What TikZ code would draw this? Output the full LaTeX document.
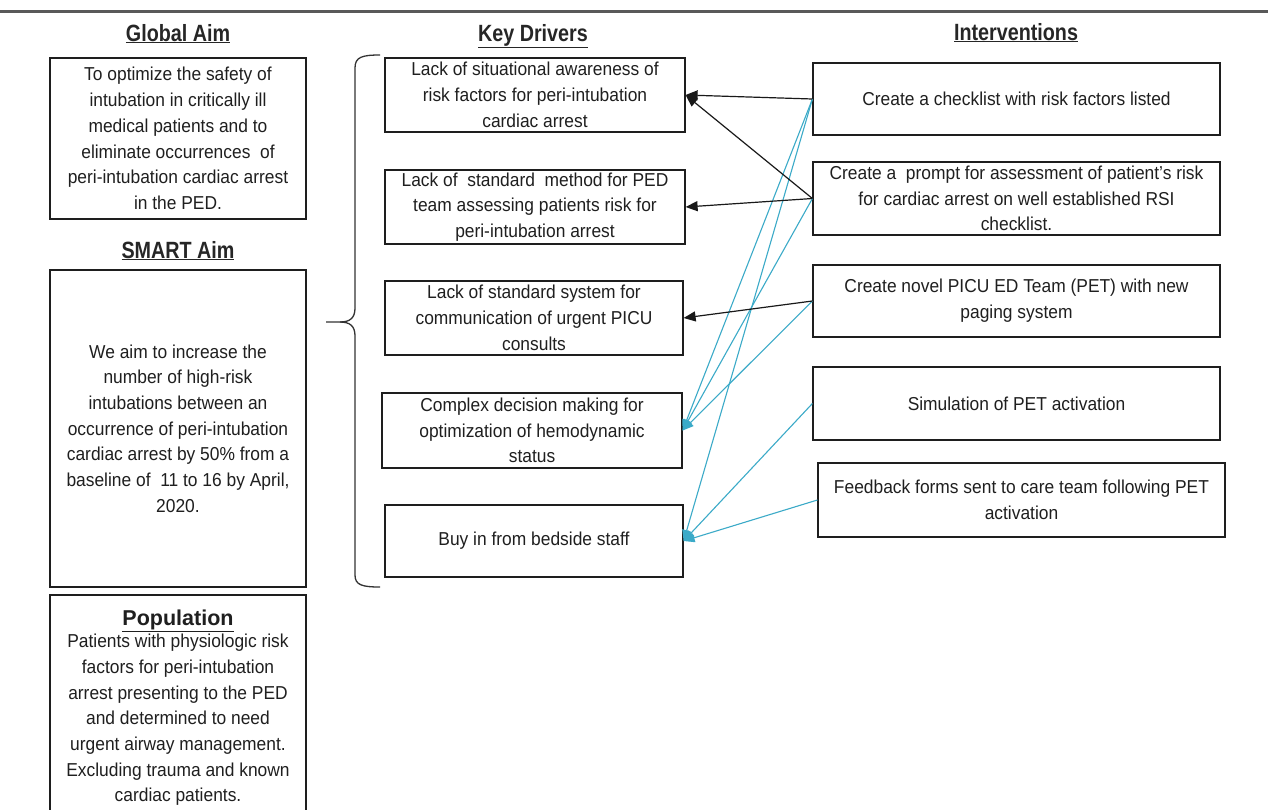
\documentclass[tikz,border=0pt]{standalone}
\usepackage{fontspec}
\setmainfont{Liberation Sans}[FakeStretch=0.93]
\newfontfamily\headfont{Liberation Sans}[FakeStretch=0.84]
\newfontfamily\popfont{Liberation Sans}
\usetikzlibrary{arrows.meta}
\definecolor{linkblue}{RGB}{59,170,200}
\definecolor{boxline}{RGB}{30,30,30}
\tikzset{
  bodyfont/.style={font=\fontsize{18.7}{25.7}\selectfont},
  box/.style={draw=boxline, line width=1.2pt, align=center, inner sep=0pt,
    bodyfont, text=black!88},
  head/.style={align=center, inner sep=0pt, anchor=base, font=\headfont\bfseries\fontsize{23.5}{26}\selectfont, text=black!85},
  blk/.style={draw=black!90, line width=1.2pt, -{Triangle[length=12pt,width=10pt]}},
  blu/.style={draw=linkblue, line width=1.1pt, -{Triangle[length=11pt,width=9pt]}},
  bracestyle/.style={draw=black!80, line width=1.3pt}
}
\begin{document}
\begin{tikzpicture}[x=1pt,y=-1pt]
\useasboundingbox (0,0) rectangle (1268,809);
\fill[white] (0,0) rectangle (1268,809);
% top rule
\draw[line width=3pt, draw=black!65] (0,11) -- (1268,11);

% headings
\node[head] (hg) at (178,41) {\underline{Global Aim}};
\node[head] (hk) at (533,41) {\underline{Key Drivers}};
\node[head] (hi) at (1016,40) {\underline{Interventions}};
\node[head] (hs) at (178,258) {\underline{SMART Aim}};

% left column
\node[box, minimum width=256pt, minimum height=161pt] (global) at (178,138.5)
 {To optimize the safety of\\intubation in critically ill\\medical patients and to\\eliminate occurrences~ of\\peri-intubation cardiac arrest\\in the PED.};
\node[box, minimum width=256pt, minimum height=317pt] (smart) at (178,428.5)
 {We aim to increase the\\number of high-risk\\intubations between an\\occurrence of peri-intubation\\cardiac arrest by 50\% from a\\baseline of~ 11 to 16 by April,\\2020.};
\draw[draw=boxline, line width=1.2pt] (50,830) -- (50,595) -- (306,595) -- (306,830);
\node[align=center, inner sep=0pt, anchor=base, text=black!88, bodyfont] (poptitle) at (178,625)
 {\popfont\bfseries\fontsize{21.5}{24}\selectfont\underline{Population}};
\node[align=center, inner sep=0pt, anchor=north, text=black!88, bodyfont] (pop) at (178,634)
 {Patients with physiologic risk\\factors for peri-intubation\\arrest presenting to the PED\\and determined to need\\urgent airway management.\\Excluding trauma and known\\cardiac patients.};

% brace
\draw[bracestyle] (380,55) .. controls (362,55) and (355,57) .. (355,68) -- (355,308)
  .. controls (355,318) and (350,322) .. (340,322) -- (326,322);
\draw[bracestyle] (340,322) .. controls (350,322) and (355,326) .. (355,336) -- (355,575)
  .. controls (355,585) and (362,587) .. (380,587);

% key drivers
\node[box, minimum width=300pt, minimum height=74pt] (d1) at (535,95)
 {Lack of situational awareness of\\risk factors for peri-intubation\\cardiac arrest};
\node[box, minimum width=300pt, minimum height=74pt] (d2) at (535,207)
 {Lack of~ standard~ method for PED\\team assessing patients risk for\\peri-intubation arrest};
\node[box, minimum width=298pt, minimum height=74pt] (d3) at (534,318)
 {Lack of standard system for\\communication of urgent PICU\\consults};
\node[box, minimum width=300pt, minimum height=75pt] (d4) at (532,430.5)
 {Complex decision making for\\optimization of hemodynamic\\status};
\node[box, minimum width=298pt, minimum height=72pt] (d5) at (534,541)
 {Buy in from bedside staff};

% interventions
\node[box, minimum width=407pt, minimum height=72pt] (i1) at (1016.5,99)
 {Create a checklist with risk factors listed};
\node[box, minimum width=407pt, minimum height=73pt] (i2) at (1016.5,198.5)
 {Create a~ prompt for assessment of patient’s risk\\for cardiac arrest on well established RSI\\checklist.};
\node[box, minimum width=407pt, minimum height=72pt] (i3) at (1016.5,301)
 {Create novel PICU ED Team (PET) with new\\paging system};
\node[box, minimum width=407pt, minimum height=73pt] (i4) at (1016.5,403.5)
 {Simulation of PET activation};
\node[box, minimum width=407pt, minimum height=74pt] (i5) at (1021.5,500)
 {Feedback forms sent to care team following PET\\activation};

% connectors
\draw[blu] (i1.west) -- (d4.east);
\draw[blu] (i1.west) -- (d5.east);
\draw[blu] (i2.west) -- (d4.east);
\draw[blu] (i3.west) -- (d4.east);
\draw[blu] (i4.west) -- (d5.east);
\draw[blu] (i5.west) -- (d5.east);
\draw[blk] (i1.west) -- (d1.east);
\draw[blk] (i2.west) -- (d1.east);
\draw[blk] (i2.west) -- (d2.east);
\draw[blk] (i3.west) -- (d3.east);
\end{tikzpicture}
\end{document}
